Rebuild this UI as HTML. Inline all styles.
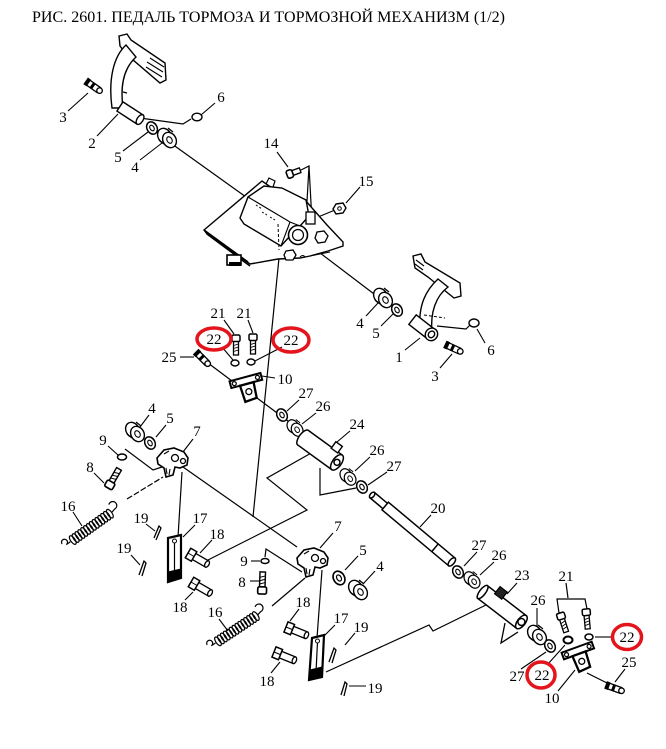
<!DOCTYPE html>
<html><head><meta charset="utf-8">
<style>html,body{margin:0;padding:0;background:#fff}svg{display:block}</style>
</head>
<body>
<svg xmlns="http://www.w3.org/2000/svg" xmlns:xlink="http://www.w3.org/1999/xlink" width="666" height="749" viewBox="0 0 666 749">
<defs>
  <g id="w">
    <ellipse rx="5" ry="6.5" transform="rotate(-30)" fill="#fff" stroke="#000" stroke-width="1.5"/>
    <ellipse rx="2" ry="3" transform="rotate(-30)" fill="none" stroke="#000" stroke-width="1.1"/>
  </g>
  <g id="b">
    <ellipse cx="-2.5" cy="-2" rx="6.5" ry="8" transform="rotate(-30 -2.5 -2)" fill="#fff" stroke="#000" stroke-width="1.4"/>
    <path d="M-8,2 L-3,6 M1,-10 L6,-6" stroke="#000" stroke-width="1.2" fill="none"/>
    <ellipse cx="2.5" cy="2" rx="6.5" ry="8" transform="rotate(-30 2.5 2)" fill="#fff" stroke="#000" stroke-width="1.4"/>
    <ellipse cx="2.5" cy="2" rx="2.5" ry="3.5" transform="rotate(-30 2.5 2)" fill="none" stroke="#000" stroke-width="1.1"/>
  </g>
  <g id="p">
    <rect x="6" y="-3.5" width="16" height="7" fill="#fff" stroke="#000" stroke-width="1.3"/>
    <ellipse cx="22" rx="2" ry="3.5" fill="#fff" stroke="#000" stroke-width="1.3"/>
    <rect x="0" y="-5.5" width="7" height="11" fill="#fff" stroke="#000" stroke-width="1.5"/>
    <line x1="0" y1="0" x2="7" y2="0" stroke="#000" stroke-width="1"/>
  </g>
  <g id="bolt">
    <rect x="6" y="-2.5" width="14" height="5" fill="#fff" stroke="#000" stroke-width="1.3"/>
    <path d="M9,-2.5 l1.5,5 M12,-2.5 l1.5,5 M15,-2.5 l1.5,5" stroke="#000" stroke-width="0.9"/>
    <rect x="0" y="-4" width="6.5" height="8" rx="1.5" fill="#fff" stroke="#000" stroke-width="1.5"/>
  </g>
  <g id="spr" fill="none" stroke="#000" stroke-width="1.2">
    <path d="M9,0 L4,0 a3,3 0 1,0 -3,-3"/>
    <ellipse cx="12" rx="2.2" ry="5"/><ellipse cx="15.5" rx="2.2" ry="5"/><ellipse cx="19" rx="2.2" ry="5"/>
    <ellipse cx="22.5" rx="2.2" ry="5"/><ellipse cx="26" rx="2.2" ry="5"/><ellipse cx="29.5" rx="2.2" ry="5"/>
    <ellipse cx="33" rx="2.2" ry="5"/><ellipse cx="36.5" rx="2.2" ry="5"/><ellipse cx="40" rx="2.2" ry="5"/>
    <ellipse cx="43.5" rx="2.2" ry="5"/><ellipse cx="47" rx="2.2" ry="5"/><ellipse cx="50.5" rx="2.2" ry="5"/>
    <ellipse cx="54" rx="2.2" ry="5"/><ellipse cx="57.5" rx="2.2" ry="5"/>
    <path d="M60,0 L64,-1 a4,4 0 1,0 -2,-7"/>
  </g>
  <g id="lev">
    <path d="M-15,-2 L-8,-10 L2,-12 L12,-8 L16,-2 L15,5 L8,8 L3,7 L1,15 L-6,17 L-8,8 L-14,4 Z" fill="#fff" stroke="#000" stroke-width="1.6"/>
    <circle cx="3" cy="-2" r="3.5" fill="#fff" stroke="#000" stroke-width="1.3"/>
    <circle cx="11" cy="1" r="2.5" fill="#fff" stroke="#000" stroke-width="1.3"/>
    <path d="M-8,-6 L-3,-9 M-6,8 L-5,14 M-2,9 L-3,15" stroke="#000" stroke-width="1.1" fill="none"/>
  </g>
  <g id="fit">
    <rect x="-7" y="-3" width="14" height="6" fill="#fff" stroke="#000" stroke-width="1.3"/>
    <rect x="-9" y="-4" width="4" height="8" fill="#000"/>
    <rect x="-2" y="-3.5" width="3" height="7" fill="#000"/>
    <circle cx="8" cy="0" r="2.8" fill="#fff" stroke="#000" stroke-width="1.3"/>
  </g>
  <g id="brk">
    <rect x="-16" y="-4" width="32" height="7" fill="#fff" stroke="#000" stroke-width="2"/>
    <path d="M-7,3 L7,3 L6,19 L-6,20 Z" fill="#fff" stroke="#000" stroke-width="2.3"/>
    <circle cx="0" cy="11" r="3" fill="#fff" stroke="#000" stroke-width="1.3"/>
    <circle cx="-12" cy="-0.5" r="2" fill="#fff" stroke="#000" stroke-width="1.2"/>
    <circle cx="12" cy="-0.5" r="2" fill="#fff" stroke="#000" stroke-width="1.2"/>
  </g>
</defs>

<rect width="666" height="749" fill="#fff"/>

<text x="32" y="22" font-family="Liberation Serif, serif" font-size="16" textLength="473" lengthAdjust="spacingAndGlyphs" fill="#000">РИС. 2601. ПЕДАЛЬ ТОРМОЗА И ТОРМОЗНОЙ МЕХАНИЗМ (1/2)</text>

<g stroke="#000" stroke-width="1.2" fill="none">
  <line x1="172" y1="144" x2="246" y2="197"/>
  <line x1="303" y1="240" x2="378" y2="297"/>
  <line x1="280" y1="248" x2="253" y2="517"/>
  <line x1="183" y1="467" x2="297" y2="547"/>
  <polyline points="313,452 267,478 307,510 206,561"/>
  <polyline points="320,468 320,495 356,488"/>
  <line x1="257" y1="398" x2="296" y2="427"/>
  <polyline points="326,672 429,625 433,631 490,603"/>
  <line x1="182" y1="472" x2="178" y2="537"/>
  <line x1="322" y1="570" x2="317" y2="638"/>
  <polyline points="125,449 153,470 162,467"/>
  <line x1="127" y1="499" x2="163" y2="477" stroke-dasharray="6,2"/>
  <line x1="272" y1="606" x2="305" y2="578"/>
  <polyline points="265,557 266,549 302,572"/>
  <line x1="208" y1="363" x2="232" y2="381"/>
  <line x1="587" y1="673" x2="607" y2="683"/>
  <polyline points="566,583 568,598"/>
  <polyline points="559,613 557,599 585,599 587,609"/>
  <polyline points="140,118 183,124 191,119"/>
  <polyline points="437,326 466,329 470,325"/>
  <polyline points="299,171 309,166 306,219"/>
  <line x1="309" y1="166" x2="312" y2="222"/>
  <line x1="335" y1="210" x2="318" y2="217"/>
</g>

<g stroke="#000" stroke-width="1.1" fill="none">
  <line x1="68" y1="111" x2="88" y2="93"/>
  <line x1="97" y1="136" x2="118" y2="114"/>
  <line x1="123" y1="151" x2="148" y2="132"/>
  <line x1="140" y1="160" x2="162" y2="143"/>
  <line x1="215" y1="103" x2="201" y2="115"/>
  <line x1="277" y1="152" x2="288" y2="167"/>
  <line x1="360" y1="187" x2="346" y2="203"/>
  <line x1="366" y1="316" x2="378" y2="303"/>
  <line x1="381" y1="326" x2="393" y2="314"/>
  <line x1="405" y1="350" x2="420" y2="338"/>
  <line x1="485" y1="343" x2="477" y2="329"/>
  <line x1="440" y1="368" x2="452" y2="354"/>
  <line x1="224" y1="320" x2="234" y2="334"/>
  <line x1="248" y1="320" x2="253" y2="333"/>
  <line x1="222" y1="347" x2="233" y2="360"/>
  <line x1="282" y1="347" x2="253" y2="362"/>
  <line x1="180" y1="357" x2="194" y2="357"/>
  <line x1="275" y1="378" x2="262" y2="376"/>
  <line x1="299" y1="400" x2="287" y2="411"/>
  <line x1="316" y1="413" x2="302" y2="424"/>
  <line x1="350" y1="431" x2="337" y2="442"/>
  <line x1="149" y1="415" x2="140" y2="427"/>
  <line x1="166" y1="425" x2="156" y2="437"/>
  <line x1="193" y1="439" x2="183" y2="452"/>
  <line x1="108" y1="446" x2="118" y2="455"/>
  <line x1="94" y1="473" x2="104" y2="483"/>
  <line x1="370" y1="457" x2="355" y2="471"/>
  <line x1="387" y1="472" x2="368" y2="485"/>
  <line x1="431" y1="515" x2="420" y2="527"/>
  <line x1="73" y1="512" x2="82" y2="526"/>
  <line x1="146" y1="524" x2="155" y2="531"/>
  <line x1="195" y1="525" x2="183" y2="537"/>
  <line x1="212" y1="540" x2="200" y2="553"/>
  <line x1="131" y1="555" x2="140" y2="565"/>
  <line x1="185" y1="600" x2="193" y2="592"/>
  <line x1="333" y1="533" x2="320" y2="548"/>
  <line x1="358" y1="556" x2="345" y2="570"/>
  <line x1="375" y1="571" x2="363" y2="584"/>
  <line x1="251" y1="561" x2="260" y2="561"/>
  <line x1="250" y1="581" x2="260" y2="581"/>
  <line x1="219" y1="619" x2="228" y2="631"/>
  <line x1="299" y1="609" x2="290" y2="621"/>
  <line x1="335" y1="625" x2="324" y2="636"/>
  <line x1="355" y1="633" x2="345" y2="645"/>
  <line x1="271" y1="673" x2="280" y2="662"/>
  <line x1="366" y1="686" x2="349" y2="686"/>
  <line x1="477" y1="552" x2="464" y2="566"/>
  <line x1="494" y1="562" x2="480" y2="575"/>
  <line x1="517" y1="583" x2="507" y2="594"/>
  <line x1="537" y1="608" x2="537" y2="627"/>
  <line x1="611" y1="637" x2="595" y2="637"/>
  <line x1="625" y1="669" x2="615" y2="682"/>
  <line x1="521" y1="669" x2="546" y2="652"/>
  <line x1="548" y1="664" x2="565" y2="645"/>
  <line x1="558" y1="691" x2="575" y2="670"/>
</g>

<g stroke="#000" stroke-width="1.4" fill="#fff">
  <path d="M204,230 L262,181 L272,188 L305,200 L327,225 L343,242 L343,246 L328,251 L310,256 L300,258 L278,259 L250,264 L207,234 Z"/>
  <path d="M204,230 L248,262 M207,234 L250,266" fill="none" stroke-width="1.6"/>
  <path d="M240,218 L248,197 L264,186 L282,188 L306,200 L309,216 L300,226 L290,236 L281,246 L244,224 Z"/>
  <path d="M248,197 L290,222 L300,226 M290,222 L281,246" fill="none" stroke-width="1.1"/>
  <path d="M256,205 l6,4 M262,212 l5,3 M270,217 l5,3" fill="none" stroke-width="1" stroke-dasharray="2,2"/>
  <circle cx="298" cy="235" r="9.5" stroke-width="1.6"/>
  <circle cx="298" cy="235" r="5.5" stroke-width="1.2"/>
  <rect x="306" y="212" width="9" height="12" stroke-width="1.3"/>
  <polygon points="317,232 324,231 328,236 325,242 318,243 315,238" stroke-width="1.3"/>
  <polygon points="286,251 293,250 296,255 293,260 286,260 284,255" stroke-width="1.3"/>
  <rect x="227" y="255" width="14" height="10" fill="#fff" stroke-width="1.6"/>
  <rect x="229" y="262" width="12" height="4" fill="#000" stroke="none"/>
  <path d="M266,184 l3,-6 l6,3 l-2,6" fill="none" stroke-width="1.2"/>
  <line x1="278" y1="224" x2="279" y2="250" stroke-dasharray="3,2" stroke-width="1"/>
  <path d="M300,257 q3,-3 5,0 M310,256 L330,252" fill="none" stroke-width="1"/>
</g>

<g stroke="#000" fill="#fff">
  <g transform="translate(287,175) rotate(-20)">
    <rect x="5" y="-2.5" width="9" height="5" stroke-width="1.3"/>
    <rect x="0" y="-4" width="6" height="8" rx="2" stroke-width="1.6"/>
  </g>
  <polygon points="336,204 343,203 346,208 343,213 336,214 333,209" stroke-width="1.4"/>
  <circle cx="339.5" cy="208.5" r="1.8" stroke-width="1"/>
</g>

<g stroke="#000" stroke-width="1.4" fill="#fff">
  <path d="M119,36 L127,34 L131,40 L165,63 L166,80 L160,83 L126,54 L120,46 Z"/>
  <path d="M147,62 L163,72 M146,67 L162,77 M150,58 L164,67" fill="none" stroke-width="1.1"/>
  <path d="M126,45 C114,56 108,78 112,108 L123,108 C120,86 124,68 136,57 Z"/>
  <path d="M123,92 l4,1" fill="none"/>
  <g transform="translate(130,113) rotate(33)">
    <rect x="-12" y="-5.5" width="24" height="11"/>
    <ellipse cx="12" rx="3" ry="5.5"/>
  </g>
  <ellipse cx="197" cy="117" rx="5" ry="3.8"/>
</g>
<use xlink:href="#fit" href="#fit" transform="translate(93,86) rotate(35)"/>
<use xlink:href="#w" href="#w" transform="translate(152,128)"/>
<use xlink:href="#b" href="#b" transform="translate(167,138)"/>

<g stroke="#000" stroke-width="1.4" fill="#fff">
  <path d="M413,256 L421,254 L425,262 L460,283 L461,296 L454,298 L428,277 L415,268 Z"/>
  <path d="M416,260 L424,266 M415,264 L423,270" fill="none" stroke-width="1.1"/>
  <path d="M438,279 C426,290 418,305 420,330 L432,333 C430,312 436,296 448,287 Z"/>
  <g transform="translate(422,327) rotate(38)">
    <rect x="-12" y="-6" width="24" height="12"/>
    <ellipse cx="12" rx="6" ry="6.5"/>
    <ellipse cx="12" rx="3" ry="3.5"/>
  </g>
  <path d="M424,315 L445,318" fill="none" stroke-width="1" stroke-dasharray="3,2"/>
  <ellipse cx="474" cy="323" rx="5" ry="4"/>
</g>
<use xlink:href="#fit" href="#fit" transform="translate(453,348) rotate(25)"/>
<use xlink:href="#b" href="#b" transform="translate(383,298)"/>
<use xlink:href="#w" href="#w" transform="translate(397,310)"/>

<use xlink:href="#bolt" href="#bolt" transform="translate(236,335) rotate(90)"/>
<use xlink:href="#bolt" href="#bolt" transform="translate(253,334) rotate(90)"/>
<ellipse cx="235" cy="363" rx="4" ry="3" fill="#fff" stroke="#000" stroke-width="1.4"/>
<ellipse cx="251" cy="362" rx="4" ry="3" fill="#fff" stroke="#000" stroke-width="1.4"/>
<use xlink:href="#fit" href="#fit" transform="translate(202,358) rotate(45)"/>
<use xlink:href="#brk" href="#brk" transform="translate(246,381) rotate(-15)"/>
<use xlink:href="#w" href="#w" transform="translate(282,415)"/>
<use xlink:href="#b" href="#b" transform="translate(295,428) scale(0.85)"/>

<g transform="translate(320,450) rotate(36)" stroke="#000" stroke-width="1.5" fill="#fff">
  <ellipse cx="-21" rx="4" ry="9"/>
  <rect x="-21" y="-9" width="42" height="18" stroke="none"/>
  <line x1="-21" y1="-9" x2="21" y2="-9"/>
  <line x1="-21" y1="9" x2="21" y2="9"/>
  <ellipse cx="21" rx="4.5" ry="9"/>
  <circle cx="21" r="3"/>
  <rect x="8" y="-16" width="8" height="8" stroke-width="1.4"/>
</g>
<use xlink:href="#b" href="#b" transform="translate(348,477) scale(0.85)"/>
<use xlink:href="#w" href="#w" transform="translate(362,487)"/>

<g transform="translate(412,528.5) rotate(40)" stroke="#000" stroke-width="1.5" fill="#fff">
  <rect x="-52" y="-3.5" width="18" height="7"/>
  <ellipse cx="-52" rx="2" ry="3.5"/>
  <rect x="-35" y="-5" width="87" height="10"/>
  <line x1="30" y1="-5" x2="30" y2="5"/>
  <ellipse cx="52" rx="2.5" ry="5"/>
</g>

<use xlink:href="#b" href="#b" transform="translate(135,432)"/>
<use xlink:href="#w" href="#w" transform="translate(150,443)"/>
<ellipse cx="122" cy="457" rx="4.5" ry="3" fill="#fff" stroke="#000" stroke-width="1.5"/>
<use xlink:href="#lev" href="#lev" transform="translate(172,460)"/>
<use xlink:href="#bolt" href="#bolt" transform="translate(108,488) rotate(-60) scale(1.1)"/>
<use xlink:href="#spr" href="#spr" transform="translate(63,547) rotate(-35.4)"/>
<g stroke="#000" stroke-width="1.3" fill="none">
  <path d="M154,538 L159,526 L161,528 L156,540"/>
  <path d="M139,575 L144,561 L146,563 L142,576"/>
  <path d="M329,662 L334,648 L336,650 L332,663"/>
  <path d="M341,695 L345,682 L347,684 L344,696"/>
</g>
<g stroke="#000" fill="#fff">
  <polygon points="168,538 181,535 181,578 168,582" stroke-width="2.2"/>
  <line x1="174.5" y1="542" x2="174.5" y2="572" stroke-width="1.2"/>
  <polygon points="168,572 181,569 181,578 168,582" fill="#000" stroke-width="1"/>
  <circle cx="174.5" cy="541" r="2" stroke-width="1"/>
</g>
<use xlink:href="#p" href="#p" transform="translate(188,553) rotate(30)"/>
<use xlink:href="#p" href="#p" transform="translate(191,582) rotate(30)"/>

<use xlink:href="#lev" href="#lev" transform="translate(312,560)"/>
<ellipse cx="265" cy="561" rx="4" ry="2.5" fill="#fff" stroke="#000" stroke-width="1.5"/>
<use xlink:href="#bolt" href="#bolt" transform="translate(262,594) rotate(-88) scale(1.1)"/>
<use xlink:href="#spr" href="#spr" transform="translate(208,648) rotate(-33.7)"/>
<use xlink:href="#w" href="#w" transform="translate(339,578) scale(1.1)"/>
<use xlink:href="#b" href="#b" transform="translate(358,590)"/>
<use xlink:href="#p" href="#p" transform="translate(286,627) rotate(22)"/>
<use xlink:href="#p" href="#p" transform="translate(274,652) rotate(22)"/>
<g stroke="#000" fill="#fff">
  <polygon points="312,638 324,635 322,677 309,680" stroke-width="2.2"/>
  <line x1="317.5" y1="642" x2="316" y2="672" stroke-width="1.2"/>
  <polygon points="310,670 322,667 322,677 309,680" fill="#000" stroke-width="1"/>
  <circle cx="317.5" cy="641" r="2" stroke-width="1"/>
</g>

<use xlink:href="#w" href="#w" transform="translate(458,572)"/>
<use xlink:href="#b" href="#b" transform="translate(472,580) scale(0.85)"/>
<g transform="translate(502,607) rotate(37.6)" stroke="#000" stroke-width="1.5" fill="#fff">
  <rect x="-24.5" y="-8" width="49" height="16"/>
  <ellipse cx="-24.5" rx="3" ry="8"/>
  <ellipse cx="24.5" rx="4" ry="8"/>
  <circle cx="24.5" r="3.5"/>
  <rect x="-14" y="-15" width="9" height="9" fill="#222" stroke-width="1.2"/>
</g>
<polyline points="505,623 501,643 518,632" fill="none" stroke="#000" stroke-width="1.3"/>
<use xlink:href="#b" href="#b" transform="translate(537,635)"/>
<use xlink:href="#w" href="#w" transform="translate(550,646)"/>
<use xlink:href="#bolt" href="#bolt" transform="translate(560,613) rotate(72)"/>
<use xlink:href="#bolt" href="#bolt" transform="translate(586,609) rotate(85)"/>
<ellipse cx="568" cy="640" rx="4.5" ry="3.5" fill="#fff" stroke="#000" stroke-width="2"/>
<ellipse cx="589" cy="637" rx="4" ry="3" fill="#fff" stroke="#000" stroke-width="1.5"/>
<use xlink:href="#brk" href="#brk" transform="translate(578,651) rotate(-20)"/>
<use xlink:href="#fit" href="#fit" transform="translate(614,688) rotate(20)"/>

<g font-family="Liberation Serif, serif" font-size="15" fill="#000" text-anchor="middle">
  <text x="63" y="122">3</text>
  <text x="92" y="148">2</text>
  <text x="118" y="162">5</text>
  <text x="135" y="172">4</text>
  <text x="221" y="102">6</text>
  <text x="271" y="148">14</text>
  <text x="366" y="186">15</text>
  <text x="360" y="328">4</text>
  <text x="376" y="338">5</text>
  <text x="399" y="362">1</text>
  <text x="491" y="355">6</text>
  <text x="435" y="381">3</text>
  <text x="218" y="318">21</text>
  <text x="244" y="318">21</text>
  <text x="214" y="344">22</text>
  <text x="291" y="345">22</text>
  <text x="169" y="362">25</text>
  <text x="285" y="384">10</text>
  <text x="306" y="398">27</text>
  <text x="323" y="411">26</text>
  <text x="357" y="429">24</text>
  <text x="152" y="413">4</text>
  <text x="170" y="423">5</text>
  <text x="197" y="436">7</text>
  <text x="103" y="445">9</text>
  <text x="90" y="472">8</text>
  <text x="377" y="455">26</text>
  <text x="394" y="471">27</text>
  <text x="438" y="513">20</text>
  <text x="68" y="511">16</text>
  <text x="141" y="523">19</text>
  <text x="200" y="523">17</text>
  <text x="217" y="539">18</text>
  <text x="124" y="553">19</text>
  <text x="180" y="612">18</text>
  <text x="338" y="531">7</text>
  <text x="363" y="555">5</text>
  <text x="380" y="571">4</text>
  <text x="244" y="566">9</text>
  <text x="242" y="587">8</text>
  <text x="215" y="617">16</text>
  <text x="303" y="607">18</text>
  <text x="341" y="623">17</text>
  <text x="361" y="632">19</text>
  <text x="267" y="686">18</text>
  <text x="375" y="693">19</text>
  <text x="479" y="550">27</text>
  <text x="499" y="560">26</text>
  <text x="522" y="580">23</text>
  <text x="566" y="581">21</text>
  <text x="538" y="605">26</text>
  <text x="627" y="642">22</text>
  <text x="629" y="667">25</text>
  <text x="517" y="681">27</text>
  <text x="542" y="680">22</text>
  <text x="552" y="703">10</text>
</g>

<g fill="none" stroke="#e3141c" stroke-width="3.5">
  <ellipse cx="214" cy="339" rx="17" ry="11"/>
  <ellipse cx="291" cy="340" rx="18" ry="12"/>
  <ellipse cx="627" cy="637" rx="14.5" ry="12.5"/>
  <ellipse cx="541" cy="675" rx="14" ry="13"/>
</g>
</svg>
</body>
</html>
